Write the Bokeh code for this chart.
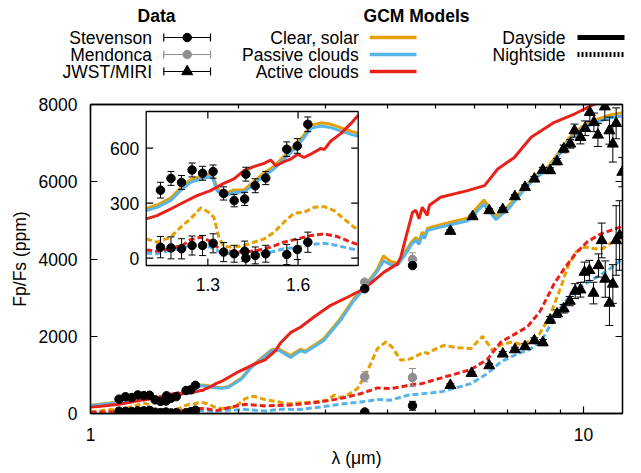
import numpy as np
from bokeh.plotting import figure
from bokeh.models import Range1d, LinearScale, FixedTicker, LinearAxis, LogAxis, PrintfTickFormatter
from bokeh.layouts import column
from bokeh.embed import file_html
from bokeh.resources import INLINE
from bokeh.core.properties import value

FONT = "Liberation Sans"
FS = "17.5px"
ORANGE = "#E69F00"
BLUE = "#56B4E9"
RED = "#E8221A"
GREY = "#8f8f8f"

# ---------------- data ----------------
X_TICKS = [1, 10]
X_MINOR = [2, 3, 4, 5, 6, 7, 8, 9]
Y_TICKS = [0, 2000, 4000, 6000, 8000]
INSET_X_TICKS = [1.3, 1.6]
INSET_X_LABELS = ["1.3", "1.6"]
INSET_Y_TICKS = [0, 300, 600]
INSET_Y_LABELS = ["0", "300", "600"]

day_wl = [1.00, 1.05, 1.095, 1.131, 1.176, 1.209, 1.242, 1.287, 1.314, 1.331,
          1.353, 1.387, 1.420, 1.453, 1.487, 1.520, 1.553, 1.587, 1.620, 1.642,
          1.676, 1.709, 1.742, 1.776, 1.800, 1.850, 1.905, 2.025, 2.12, 2.33,
          2.41, 2.545, 2.667, 2.727, 2.97, 3.21, 3.42, 3.61, 3.82, 3.93,
          4.07, 4.20, 4.33, 4.47, 4.57, 4.64, 4.71, 4.76, 4.83, 5.13,
          5.83, 6.28, 6.64, 7.03, 7.46, 7.94, 8.49, 8.89, 9.33, 9.92,
          10.56, 11.26, 12.0]
clear_day = [215, 245, 270, 290, 327, 382, 427, 452, 462, 382,
             348, 372, 372, 418, 465, 500, 555, 610, 672, 725,
             738, 730, 712, 692, 682, 670, 700, 920, 1220, 1650,
             1670, 1500, 1660, 1620, 1930, 2450, 2970, 3310, 3740, 4080,
             3930, 3900, 4150, 4420, 4560, 4450, 4700, 4600, 4800, 4890,
             5060, 5530, 5110, 5360, 5750, 6130, 6390, 6740, 7120, 7420,
             7600, 7720, 7790]
passive_day = [205, 232, 259, 277, 314, 368, 413, 437, 445, 368,
               335, 359, 359, 404, 450, 486, 540, 594, 657, 708,
               721, 712, 694, 675, 665, 650, 680, 895, 1195, 1625,
               1640, 1450, 1625, 1585, 1885, 2400, 2920, 3260, 3690, 3950,
               3850, 3850, 4080, 4360, 4490, 4380, 4620, 4530, 4740, 4830,
               4990, 5420, 5020, 5290, 5680, 6070, 6330, 6670, 7060, 7360,
               7530, 7650, 7700]

active_day_wl = [1.00, 1.05, 1.095, 1.131, 1.176, 1.220, 1.264, 1.309, 1.353, 1.387,
                 1.420, 1.453, 1.487, 1.509, 1.526, 1.553, 1.576, 1.598, 1.620, 1.642,
                 1.676, 1.687, 1.709, 1.742, 1.776, 1.800, 1.85, 1.995, 2.16, 2.26,
                 2.37, 2.43, 2.55, 2.67, 2.84, 3.07, 3.32, 3.59, 3.94, 4.20,
                 4.26, 4.40, 4.50, 4.57, 4.64, 4.71, 4.82, 4.87, 5.13, 5.82,
                 6.30, 6.70, 7.24, 7.83, 8.73, 9.61, 10.38, 10.88, 12.0]
active_day = [165, 190, 214, 232, 268, 305, 341, 368, 408, 432,
              477, 499, 517, 535, 504, 526, 540, 567, 549, 567,
              599, 592, 639, 679, 735, 780, 840, 1080, 1290, 1390,
              1620, 1830, 2100, 2240, 2500, 2800, 3010, 3230, 3660, 3880,
              4050, 4740, 5210, 5260, 5040, 5340, 5130, 5390, 5600, 5770,
              5900, 6330, 6630, 7150, 7540, 7760, 7970, 8100, 8450]

clear_night_wl = [1.00, 1.05, 1.095, 1.131, 1.176, 1.209, 1.242, 1.276, 1.298, 1.320,
                  1.337, 1.353, 1.387, 1.420, 1.453, 1.487, 1.520, 1.553, 1.587, 1.620,
                  1.653, 1.687, 1.720, 1.753, 1.787, 1.800, 1.846, 1.905, 1.965, 2.06,
                  2.14, 2.26, 2.41, 2.52, 2.64, 2.84, 3.02, 3.12, 3.21, 3.32,
                  3.48, 3.65, 3.82, 3.97, 4.09, 4.26, 4.47, 4.61, 4.75, 4.83,
                  4.98, 5.21, 5.55, 5.91, 6.24, 6.54, 6.80, 7.18, 7.47, 7.83,
                  8.15, 8.53, 9.00, 9.29, 9.65, 10.04, 10.51, 10.93, 11.45, 12.0]
clear_night = [45, 70, 105, 87, 114, 168, 214, 274, 256, 223,
               114, 63, 60, 69, 87, 105, 141, 196, 245, 250,
               277, 281, 259, 214, 168, 155, 127, 140, 171, 385,
               447, 360, 300, 250, 270, 300, 344, 473, 413, 473,
               646, 1119, 1680, 1851, 1722, 1378, 1421, 1507, 1593, 1550,
               1654, 1765, 1705, 1680, 1998, 1636, 1784, 1851, 1782, 1895,
               2067, 2498, 3273, 3791, 4179, 4308, 4265, 4265, 4437, 4610]

active_night_wl = [1.00, 1.05, 1.095, 1.131, 1.176, 1.220, 1.242, 1.276, 1.309, 1.342,
                   1.376, 1.420, 1.464, 1.509, 1.553, 1.598, 1.642, 1.687, 1.731, 1.776,
                   1.80, 1.905, 2.06, 2.26, 2.52, 2.64, 2.93, 3.21, 3.54, 3.82,
                   4.06, 4.33, 4.53, 4.68, 4.90, 5.38, 5.91, 6.38, 6.60, 6.80,
                   7.13, 7.69, 8.15, 8.45, 8.72, 9.14, 9.65, 10.19, 10.85, 11.59, 12.0]
active_night = [30, 38, 45, 38, 51, 74, 100, 114, 92, 45,
                38, 33, 42, 60, 87, 105, 123, 132, 118, 87,
                74, 150, 240, 197, 215, 240, 300, 385, 516, 662,
                646, 706, 757, 768, 843, 990, 1137, 1400, 1640, 1850,
                2000, 2240, 2630, 3015, 3360, 3750, 4150, 4450, 4650, 4780, 4850]

passive_night_wl = [1.00, 1.05, 1.095, 1.131, 1.176, 1.220, 1.276, 1.309, 1.342, 1.376,
                    1.420, 1.464, 1.509, 1.553, 1.598, 1.642, 1.687, 1.731, 1.776, 1.80,
                    1.905, 2.06, 2.26, 2.43, 2.67, 2.93, 3.21, 3.54, 3.82, 4.06,
                    4.40, 4.75, 5.13, 5.30, 5.91, 6.38, 6.80, 7.24, 7.83, 8.27,
                    8.67, 9.00, 9.40, 9.86, 10.51, 11.20, 12.0]
passive_night = [18, 22, 27, 24, 42, 60, 74, 60, 33, 24,
                 18, 24, 33, 51, 60, 74, 81, 69, 51, 45,
                 85, 103, 67, 110, 103, 171, 240, 300, 360, 344,
                 473, 516, 560, 603, 774, 1033, 1335, 1507, 1680, 1938,
                 2412, 2756, 3058, 3273, 3489, 3705, 4010]

stev_wl = [1.1425, 1.1775, 1.2125, 1.2475, 1.2825, 1.3175, 1.3525, 1.3875,
           1.4225, 1.4265, 1.4575, 1.4925, 1.5625, 1.5975, 1.6325]
stev_day = [371, 435, 413, 481, 463, 472, 353, 314, 323, 458, 395, 437, 594, 612, 730]
stev_day_err = [43, 38, 38, 38, 38, 36, 36, 34, 36, 38, 38, 36, 40, 40, 40]
stev_night = [60, 56, 51, 69, 69, 81, 33, 24, 38, 0, 15, 24, 20, 47, 87]
stev_night_err = [58, 60, 55, 52, 55, 52, 52, 46, 55, 40, 46, 46, 55, 55, 55]

spitzer_wl = [3.6, 4.5]
stev_sp_day = [3230, 3830]
stev_sp_day_err = [40, 50]
stev_sp_night = [40, 200]
stev_sp_night_err = [50, 115]
mend_day = [3400, 3990]
mend_day_err = [60, 170]
mend_night = [950, 930]
mend_night_err = [130, 235]

miri_day_wl = [5.37, 5.96, 6.44, 6.86, 7.26, 7.61, 7.95, 8.27, 8.56, 8.84, 9.12, 9.40,
               9.59, 9.86, 10.08, 10.30, 10.50, 10.70, 11.05, 11.29, 11.47, 11.65, 11.99]
miri_day = [4720, 5100, 5255, 5281, 5617, 5857, 6074, 6303, 6290, 6522, 6850, 6980,
            7323, 7150, 7385, 7797, 7538, 7212, 7943, 7323, 6980, 7513, 6250]
miri_day_err = [40, 40, 45, 50, 50, 60, 60, 70, 70, 80, 100, 110,
                170, 170, 190, 240, 240, 300, 350, 350, 470, 400, 380]
miri_night_wl = [5.37, 5.93, 6.44, 6.86, 7.26, 7.61, 7.95, 8.27, 8.56, 8.84, 9.12, 9.38,
                 9.62, 9.86, 10.05, 10.28, 10.48, 10.73, 10.89, 11.07, 11.29, 11.47, 11.65, 11.84]
miri_night = [731, 1042, 1240, 1543, 1655, 1733, 1888, 1836, 2420, 2584, 2712, 2910,
              3170, 3204, 3660, 3705, 3118, 3833, 4480, 3480, 2860, 3353, 4480, 4609]
miri_night_err = [40, 40, 50, 60, 60, 70, 70, 80, 90, 100, 110, 120,
                  190, 190, 260, 260, 280, 300, 450, 470, 580, 500, 900, 900]

# ---------------- helpers ----------------
def errbars(fig, x, y, e, color, cap=7, **kw):
    x = np.asarray(x, float); y = np.asarray(y, float); e = np.asarray(e, float)
    fig.segment(x0=x, y0=y - e, x1=x, y1=y + e, line_color=color, line_width=1, **kw)
    fig.scatter(x=np.concatenate([x, x]), y=np.concatenate([y - e, y + e]),
                marker="dash", size=cap, line_color=color, line_width=1, **kw)

def style_axis(ax, labels=True):
    ax.major_tick_in = 7
    ax.major_tick_out = 0
    ax.minor_tick_in = 4
    ax.minor_tick_out = 0
    ax.axis_line_color = "black"
    ax.axis_line_width = 1.3
    ax.major_tick_line_color = "black"
    ax.minor_tick_line_color = "black"
    ax.major_tick_line_width = 1.2
    ax.minor_tick_line_width = 1.2
    ax.major_label_text_font = FONT
    ax.major_label_text_color = "black"
    if labels:
        ax.major_label_text_font_size = FS
    else:
        ax.major_label_text_font_size = "1px"
        ax.major_label_text_alpha = 0
        ax.major_label_standoff = 0
    ax.axis_label_text_font = FONT
    ax.axis_label_text_font_size = FS
    ax.axis_label_text_font_style = "normal"
    ax.axis_label_text_color = "black"

W = 641
LEG_H = 86
MAIN_H = 387

# ---------------- main figure ----------------
p = figure(width=W, height=MAIN_H, x_axis_type="log",
           x_range=Range1d(1, 12), y_range=Range1d(0, 8000),
           output_backend="svg", toolbar_location=None,
           min_border_left=90, min_border_right=19, min_border_top=18, min_border_bottom=60)
p.frame_align = False
p.grid.visible = False
p.outline_line_color = "black"
p.outline_line_width = 1.3
p.background_fill_color = "white"
p.border_fill_color = "white"

xa = p.xaxis[0]
xa.ticker = FixedTicker(ticks=X_TICKS, minor_ticks=X_MINOR)
xa.formatter = PrintfTickFormatter(format="%d")
style_axis(xa)
xa.major_label_standoff = 14
xa.axis_label = "λ (μm)"
xa.axis_label_standoff = 4
ya = p.yaxis[0]
ya.ticker = FixedTicker(ticks=Y_TICKS, minor_ticks=[])
style_axis(ya)
ya.major_label_standoff = 13
ya.axis_label = "Fp/Fs (ppm)"
ya.axis_label_standoff = 6

top = LogAxis(ticker=FixedTicker(ticks=X_TICKS, minor_ticks=X_MINOR),
              formatter=PrintfTickFormatter(format="%d"))
style_axis(top, labels=False)
p.add_layout(top, "above")
right = LinearAxis(ticker=FixedTicker(ticks=Y_TICKS, minor_ticks=[]))
style_axis(right, labels=False)
p.add_layout(right, "right")

DASH = "6 3"
LW = 3

def draw_models(fig, mask_fn=None, **kw):
    sets = [
        (clear_night_wl, clear_night, ORANGE, DASH),
        (passive_night_wl, passive_night, BLUE, DASH),
        (active_night_wl, active_night, RED, DASH),
        (day_wl, clear_day, ORANGE, "solid"),
        (day_wl, passive_day, BLUE, "solid"),
        (active_day_wl, active_day, RED, "solid"),
    ]
    for wl, fp, col, dash in sets:
        wl = np.asarray(wl, float); fp = np.asarray(fp, float)
        if mask_fn is not None:
            m = mask_fn(wl)
            wl, fp = wl[m], fp[m]
        fig.line(wl, fp, line_color=col, line_width=LW, line_dash=dash, **kw)

draw_models(p)

for yv, ev in [(stev_day, stev_day_err), (stev_night, stev_night_err)]:
    errbars(p, stev_wl, yv, ev, "black", cap=6)
    p.scatter(stev_wl, yv, marker="circle", size=8.5, fill_color="black", line_color="black")
for yv, ev in [(mend_day, mend_day_err), (mend_night, mend_night_err)]:
    errbars(p, spitzer_wl, yv, ev, GREY, cap=7)
    p.scatter(spitzer_wl, yv, marker="circle", size=8.5, fill_color=GREY, line_color=GREY)
for yv, ev in [(stev_sp_day, stev_sp_day_err), (stev_sp_night, stev_sp_night_err)]:
    errbars(p, spitzer_wl, yv, ev, "black", cap=7)
    p.scatter(spitzer_wl, yv, marker="circle", size=8.5, fill_color="black", line_color="black")
for wl, yv, ev in [(miri_day_wl, miri_day, miri_day_err), (miri_night_wl, miri_night, miri_night_err)]:
    errbars(p, wl, yv, ev, "black", cap=8)
    p.scatter(wl, yv, marker="triangle", size=11, fill_color="black", line_color="black")

# ---------------- inset (own linear scales inside the main frame) ----------------
INSET_X = (1.095, 1.80)
INSET_Y = (-40, 800)
BOX_FX = (0.1047, 0.5032)   # inset box, fraction of frame width
BOX_FY = (0.479, 0.9774)    # inset box, fraction of frame height (from bottom)

def span_range(lo, hi, f0, f1):
    s = (hi - lo) / (f1 - f0)
    start = lo - f0 * s
    return Range1d(start, start + s)

p.extra_x_ranges = {"inset": span_range(INSET_X[0], INSET_X[1], *BOX_FX)}
p.extra_y_ranges = {"inset": span_range(INSET_Y[0], INSET_Y[1], *BOX_FY)}
p.extra_x_scales = {"inset": LinearScale()}
p.extra_y_scales = {"inset": LinearScale()}
IN = dict(x_range_name="inset", y_range_name="inset")

p.quad(left=[INSET_X[0]], right=[INSET_X[1]], bottom=[INSET_Y[0]], top=[INSET_Y[1]],
       fill_color="white", line_color=None, **IN)
draw_models(p, mask_fn=lambda w: (w >= INSET_X[0] - 1e-9) & (w <= INSET_X[1] + 1e-9), **IN)
for yv, ev in [(stev_day, stev_day_err), (stev_night, stev_night_err)]:
    errbars(p, stev_wl, yv, ev, "black", cap=7, **IN)
    p.scatter(stev_wl, yv, marker="circle", size=8.5, fill_color="black", line_color="black", **IN)
p.quad(left=[INSET_X[0]], right=[INSET_X[1]], bottom=[INSET_Y[0]], top=[INSET_Y[1]],
       fill_color=None, line_color="black", line_width=1.3, **IN)
n = len(INSET_Y_TICKS)
p.ray(x=[INSET_X[0]] * n, y=INSET_Y_TICKS, length=7, angle=0, length_units="screen",
      line_color="black", line_width=1.2, **IN)
p.ray(x=[INSET_X[1]] * n, y=INSET_Y_TICKS, length=7, angle=np.pi, length_units="screen",
      line_color="black", line_width=1.2, **IN)
m = len(INSET_X_TICKS)
p.ray(x=INSET_X_TICKS, y=[INSET_Y[0]] * m, length=7, angle=np.pi / 2, length_units="screen",
      line_color="black", line_width=1.2, **IN)
p.ray(x=INSET_X_TICKS, y=[INSET_Y[1]] * m, length=7, angle=-np.pi / 2, length_units="screen",
      line_color="black", line_width=1.2, **IN)
p.text(x=[INSET_X[0]] * n, y=INSET_Y_TICKS, text=INSET_Y_LABELS, x_offset=-7,
       text_font=value(FONT), text_font_size=value(FS), text_align="right",
       text_baseline="middle", text_color="black", **IN)
p.text(x=INSET_X_TICKS, y=[INSET_Y[0]] * m, text=INSET_X_LABELS, y_offset=19,
       text_font=value(FONT), text_font_size=value(FS), text_align="center",
       text_baseline="middle", text_color="black", **IN)

# ---------------- legend figure (above) ----------------
leg = figure(width=W, height=LEG_H, x_range=Range1d(0, W), y_range=Range1d(LEG_H, 0),
             output_backend="svg", toolbar_location=None, min_border=0,
             x_axis_location=None, y_axis_location=None)
leg.frame_align = False
leg.grid.visible = False
leg.outline_line_color = None
leg.background_fill_color = "white"
leg.border_fill_color = "white"

ROWS = [37, 54, 71]
data_names = ["Stevenson", "Mendonca", "JWST/MIRI"]
data_cols = ["black", GREY, "black"]
data_marks = ["circle", "circle", "triangle"]
model_names = ["Clear, solar", "Passive clouds", "Active clouds"]
model_cols = [ORANGE, BLUE, RED]
side_names = ["Dayside", "Nightside"]

txt = dict(text_font=value(FONT), text_font_size=value(FS), text_color="black", text_baseline="middle")
leg.text(x=[156, 416], y=[15, 15], text=["Data", "GCM Models"], text_align="center",
         text_font_style="bold", **txt)
leg.text(x=[151.5] * 3, y=ROWS, text=data_names, text_align="right", **txt)
leg.text(x=[358.3] * 3, y=ROWS, text=model_names, text_align="right", **txt)
leg.text(x=[565] * 2, y=ROWS[:2], text=side_names, text_align="right", **txt)

for yy, col, mk in zip(ROWS, data_cols, data_marks):
    leg.segment(x0=[163.3], y0=[yy], x1=[210], y1=[yy], line_color=col, line_width=1.2)
    leg.scatter(x=[163.3, 210], y=[yy, yy], marker="dash", angle=np.pi / 2, size=8,
                line_color=col, line_width=1.2)
    leg.scatter(x=[186.7], y=[yy], marker=mk, size=11 if mk == "triangle" else 8.5,
                fill_color=col, line_color=col)
for yy, col in zip(ROWS, model_cols):
    leg.segment(x0=[369.3], y0=[yy], x1=[416], y1=[yy], line_color=col, line_width=3.5)
leg.segment(x0=[577], y0=[ROWS[0]], x1=[624], y1=[ROWS[0]], line_color="black", line_width=5)
leg.segment(x0=[577], y0=[ROWS[1]], x1=[624], y1=[ROWS[1]], line_color="black", line_width=5,
            line_dash="2 2")

layout = column(leg, p, spacing=0)
open("out.html", "w").write(file_html(layout, INLINE))
